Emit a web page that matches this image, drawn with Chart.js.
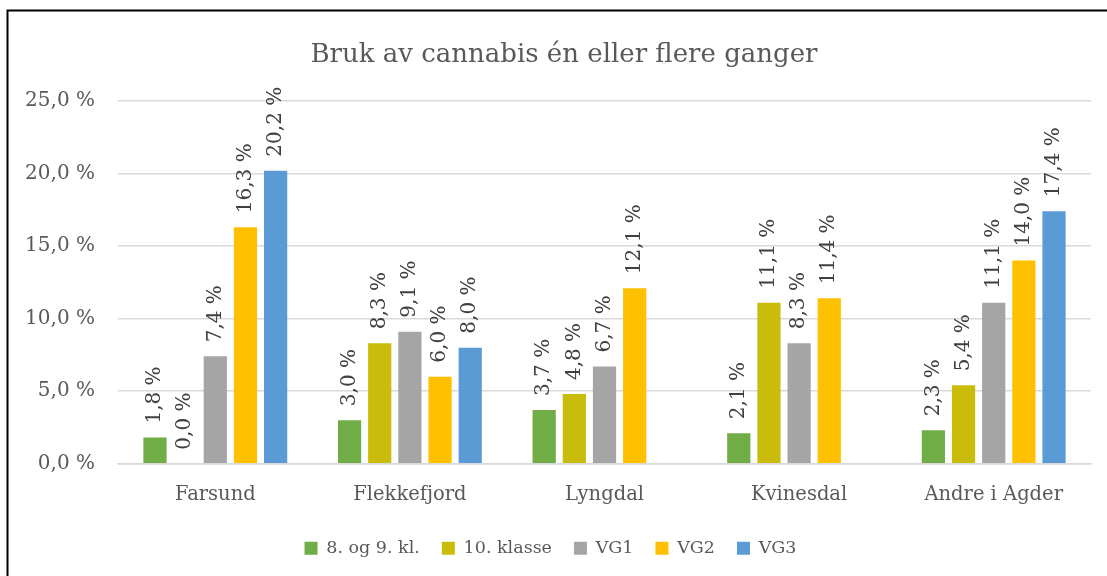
<!DOCTYPE html>
<html>
<head>
<meta charset="utf-8">
<script src="https://cdn.jsdelivr.net/npm/chart.js@4/dist/chart.umd.min.js"></script>
<style>
  html, body { margin: 0; padding: 0; background: #ffffff; }
  #wrap { width: 1107px; height: 576px; position: relative; }
</style>
</head>
<body>
<div id="wrap"><canvas id="c" width="1107" height="576"></canvas></div>
<script>
const chartTitle = "Bruk av cannabis én eller flere ganger";
const categories = ["Farsund", "Flekkefjord", "Lyngdal", "Kvinesdal", "Andre i Agder"];
const seriesNames = ["8. og 9. kl.", "10. klasse", "VG1", "VG2", "VG3"];
const kl89 = [1.8, 3.0, 3.7, 2.1, 2.3];
const klasse10 = [0.0, 8.3, 4.8, 11.1, 5.4];
const vg1 = [7.4, 9.1, 6.7, 8.3, 11.1];
const vg2 = [16.3, 6.0, 12.1, 11.4, 14.0];
const vg3 = [20.2, 8.0, null, null, 17.4];
const yTicks = [0, 5, 10, 15, 20, 25];
const colors = ["#70AD47", "#C9BC0B", "#A5A5A5", "#FFC000", "#5B9BD5"];

const FONT = "'DejaVu Serif', serif";
const fmt = v => v.toFixed(1).replace('.', ',') + ' %';

const seriesValues = [kl89, klasse10, vg1, vg2, vg3];
const datasets = seriesValues.map((vals, i) => ({
  label: seriesNames[i],
  data: vals,
  backgroundColor: colors[i],
  borderWidth: 0,
  categoryPercentage: 0.775,
  barPercentage: 0.77
}));

const valueLabels = {
  id: 'valueLabels',
  afterDatasetsDraw(chart) {
    const ctx = chart.ctx;
    ctx.save();
    ctx.fillStyle = '#404040';
    ctx.font = "20px " + FONT;
    ctx.textAlign = 'left';
    ctx.textBaseline = 'middle';
    chart.data.datasets.forEach((ds, di) => {
      const meta = chart.getDatasetMeta(di);
      meta.data.forEach((el, i) => {
        const v = ds.data[i];
        if (v === null || v === undefined) return;
        ctx.save();
        ctx.translate(el.x, el.y - 14);
        ctx.rotate(-Math.PI / 2);
        ctx.fillText(fmt(v), 0, 0);
        ctx.restore();
      });
    });
    ctx.restore();
  }
};

const frameAndTitle = {
  id: 'frameAndTitle',
  afterDraw(chart) {
    const ctx = chart.ctx;
    ctx.save();
    ctx.fillStyle = '#595959';
    ctx.font = "26px " + FONT;
    ctx.textAlign = 'center';
    ctx.textBaseline = 'alphabetic';
    ctx.fillText(chartTitle, 564, 62);
    ctx.strokeStyle = '#000000';
    ctx.lineWidth = 2;
    ctx.beginPath();
    ctx.moveTo(7.5, 576);
    ctx.lineTo(7.5, 10.5);
    ctx.lineTo(1107, 10.5);
    ctx.stroke();
    ctx.restore();
  }
};

new Chart(document.getElementById('c'), {
  type: 'bar',
  data: { labels: categories, datasets },
  plugins: [valueLabels, frameAndTitle],
  options: {
    responsive: false,
    devicePixelRatio: 1,
    animation: false,
    layout: { padding: { left: 10, right: 16, top: 101, bottom: 9 } },
    plugins: {
      title: { display: false },
      legend: {
        position: 'bottom',
        labels: {
          color: '#595959',
          font: { family: FONT, size: 17.5 },
          boxWidth: 13,
          boxHeight: 13,
          padding: 22
        }
      },
      tooltip: { enabled: false }
    },
    scales: {
      x: {
        afterFit(scale) { scale.height = 53.8; },
        grid: { display: false, drawTicks: false },
        border: { display: true, color: '#D9D9D9', width: 1.5 },
        ticks: { color: '#595959', font: { family: FONT, size: 19.5 }, padding: 20 }
      },
      y: {
        min: 0,
        max: 25,
        afterBuildTicks(scale) { scale.ticks = yTicks.map(v => ({ value: v })); },
        afterFit(scale) { scale.width = 108; },
        grid: { color: '#D9D9D9', lineWidth: 1.5, drawTicks: false },
        border: { display: false },
        ticks: {
          color: '#595959',
          font: { family: FONT, size: 20 },
          padding: 23,
          callback: v => fmt(v)
        }
      }
    }
  }
});
</script>
</body>
</html>
